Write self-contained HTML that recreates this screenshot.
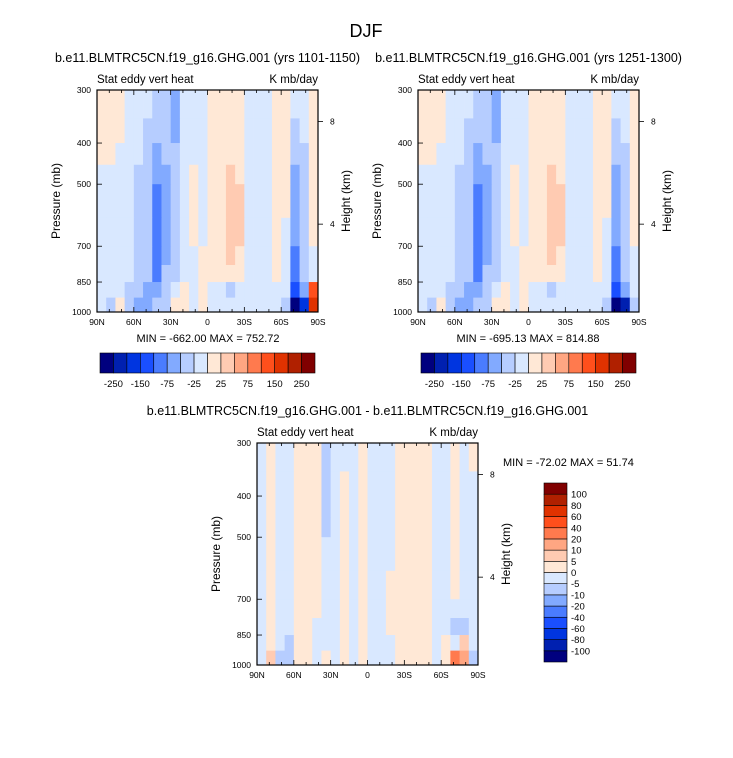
<!DOCTYPE html>
<html><head><meta charset="utf-8"><style>
html,body{margin:0;padding:0;background:#fff;}
svg{display:block;font-family:"Liberation Sans",sans-serif;}
</style></head><body>
<svg id="s" width="733" height="758" viewBox="0 0 733 758" xmlns="http://www.w3.org/2000/svg">
<text x="366" y="37" font-size="18" text-anchor="middle">DJF</text>
</svg>
<script>
const pEdges = [300,350,400,450,500,600,700,775,850,925,1000];
const latTicks = ["90N","60N","30N","0","30S","60S","90S"];
const pTicks = [300,400,500,700,850,1000];
const levels1 = [-250,-200,-150,-100,-75,-50,-25,0,25,50,75,100,150,200,250];
const levels3 = [-100,-80,-60,-40,-20,-10,-5,0,5,10,20,40,60,80,100];
const labels1 = ["-250","-150","-75","-25","25","75","150","250"];
const palette = ["#00007f","#0020b0","#0035e0","#1a4fff","#4a7cff","#82aaff","#b6cdff","#d9e8ff","#ffe8d6","#ffcbb2","#ffa682","#ff7a4e","#ff4f1c","#e03200","#b02000","#800000"];
const data1 = [
[10,10,10,-10,-10,-10,-30,-30,-60,-10,-10,-10,10,10,10,10,-10,-10,-10,10,10,-10,-10,10],
[10,10,10,-10,-10,-30,-40,-40,-60,-10,-10,-10,10,10,10,10,-10,-10,-10,10,10,-30,-10,10],
[10,10,-10,-10,-10,-30,-60,-40,-30,-10,-10,-10,10,10,10,10,-10,-10,-10,10,10,-40,-30,10],
[-10,-10,-10,-10,-30,-30,-60,-60,-30,-10,10,-10,10,10,30,10,-10,-10,-10,10,10,-60,-30,10],
[-10,-10,-10,-10,-30,-40,-80,-60,-30,-10,10,-10,10,10,30,30,-10,-10,-10,10,10,-60,-30,10],
[-10,-10,-10,-10,-30,-40,-80,-60,-30,-10,10,-10,10,10,30,30,-10,-10,-10,10,-10,-60,-30,10],
[-10,-10,-10,-10,-30,-40,-80,-60,-30,-10,-10,10,10,10,30,10,-10,-10,-10,10,-10,-80,-40,-10],
[-10,-10,-10,-10,-30,-40,-80,-40,-30,-10,-10,10,10,10,10,10,-10,-10,-10,10,-10,-90,-40,-10],
[-10,-10,-10,-30,-40,-60,-60,-30,-10,10,-10,10,-10,-10,-30,-10,-10,-10,-10,-10,-10,-120,-60,120],
[-10,-30,20,-30,-60,-60,-40,-30,10,10,-10,10,-10,-10,-10,-10,-10,-10,-10,-10,-30,-300,-200,160]];
const data2 = [
[10,10,10,-10,-10,-10,-30,-30,-60,-10,-10,-10,10,10,10,10,-10,-10,-10,10,10,-10,-10,10],
[10,10,10,-10,-10,-30,-40,-40,-60,-10,-10,-10,10,10,10,10,-10,-10,-10,10,10,-30,-10,10],
[10,10,-10,-10,-10,-30,-60,-40,-30,-10,-10,-10,10,10,10,10,-10,-10,-10,10,10,-40,-30,10],
[-10,-10,-10,-10,-30,-30,-60,-60,-30,-10,10,-10,10,10,30,10,-10,-10,-10,10,10,-60,-30,10],
[-10,-10,-10,-10,-30,-40,-80,-60,-30,-10,10,-10,10,10,30,30,-10,-10,-10,10,10,-60,-30,10],
[-10,-10,-10,-10,-30,-40,-80,-60,-30,-10,10,-10,10,10,30,30,-10,-10,-10,10,-10,-60,-30,10],
[-10,-10,-10,-10,-30,-40,-80,-60,-30,-10,-10,10,10,10,30,10,-10,-10,-10,10,-10,-80,-40,-10],
[-10,-10,-10,-10,-30,-40,-80,-40,-30,-10,-10,10,10,10,10,10,-10,-10,-10,10,-10,-90,-50,-10],
[-10,-10,-10,-30,-40,-60,-60,-30,-10,10,-10,10,-10,-10,-30,-10,-10,-10,-10,-10,-10,-130,-60,-10],
[-10,-30,20,-30,-60,-60,-40,-30,10,10,-10,10,-10,-10,-10,-10,-10,-10,-10,-10,-30,-300,-220,-30]];
const data3 = [
[-2,2,-2,-2,2,2,2,-7,-2,-2,-2,2,-2,-2,-2,2,2,2,2,-2,-2,2,-2,2],
[-2,2,-2,-2,2,2,2,-7,-2,2,-2,2,-2,-2,-2,2,2,2,2,-2,-2,2,-2,-2],
[-2,2,-2,-2,2,2,2,-7,-2,2,-2,2,-2,-2,-2,2,2,2,2,-2,-2,2,-2,-2],
[-2,2,-2,-2,2,2,2,-7,-2,2,-2,2,-2,-2,-2,2,2,2,2,-2,-2,2,-2,-2],
[-2,2,-2,-2,2,2,2,-2,-2,2,-2,2,-2,-2,-2,2,2,2,2,-2,-2,2,-2,-2],
[-2,2,-2,-2,2,2,2,-2,-2,2,-2,2,-2,-2,2,2,2,2,2,-2,-2,2,-2,-2],
[-2,2,-2,-2,2,2,2,-2,-2,2,-2,2,-2,-2,2,2,2,2,2,-2,-2,-2,-2,-2],
[-2,2,-2,-2,2,2,-2,-2,-2,2,-2,2,-2,-2,2,2,2,2,2,-2,-2,-7,-7,-2],
[-2,2,-2,-7,2,2,-2,-2,-2,2,-2,2,-2,-2,-2,2,2,2,2,-2,2,-2,7,-2],
[-2,7,-7,-7,2,2,-2,2,-2,2,-2,2,-2,-2,-2,2,2,2,2,-2,2,20,12,-7]];

const NS="http://www.w3.org/2000/svg";
const svg=document.getElementById('s');
function mk(tag,attrs,parent,text){const e=document.createElementNS(NS,tag);for(const k in attrs)e.setAttribute(k,attrs[k]);if(text!==undefined)e.textContent=text;(parent||svg).appendChild(e);return e;}
function colorFor(v,levels){let i=0;while(i<levels.length&&v>=levels[i])i++;return palette[i];}

function plot(ox,oy,data,levels,title,name){
  const W=221,H=222;
  const xS=lat=>ox+(90-lat)/180*W;
  const yS=p=>oy+Math.log(p/300)/Math.log(1000/300)*H;
  const g=mk('g',{});
  
  
  const nc=data[0].length;
  for(let r=0;r<data.length;r++)for(let c=0;c<nc;c++){
    const l0=90-180*c/nc,l1=90-180*(c+1)/nc;
    const x0=xS(l0),x1=xS(l1),y0=yS(pEdges[r]),y1=yS(pEdges[r+1]);
    const cell=mk('rect',{x:x0,y:y0,width:x1-x0+0.4,height:y1-y0+0.4,fill:colorFor(data[r][c],levels)},g);
    
    
  }
  mk('rect',{x:ox,y:oy,width:W,height:H,fill:'none',stroke:'#000','stroke-width':1.2},g);
  for(let lat=90;lat>=-90;lat-=10){
    const x=xS(lat),major=lat%30===0;const L=major?5:3;
    mk('line',{x1:x,y1:oy+H,x2:x,y2:oy+H-L,stroke:'#000','stroke-width':0.8},g);
    mk('line',{x1:x,y1:oy,x2:x,y2:oy+L,stroke:'#000','stroke-width':0.8},g);
  }
  latTicks.forEach((t,i)=>{const tl=mk('text',{x:xS(90-30*i),y:oy+H+13,'font-size':8.5,'text-anchor':'middle'},g,t);
    });
  pTicks.forEach(p=>{const y=yS(p);
    mk('line',{x1:ox,y1:y,x2:ox+5,y2:y,stroke:'#000','stroke-width':0.8},g);
    const tl=mk('text',{x:ox-6,y:y+3,'font-size':8.5,'text-anchor':'end'},g,String(p));
    });
  [[356,'8'],[621,'4']].forEach(([p,t])=>{const y=yS(p);
    mk('line',{x1:ox+W,y1:y,x2:ox+W+5,y2:y,stroke:'#000','stroke-width':0.8},g);
    const tl=mk('text',{x:ox+W+12,y:y+3,'font-size':8.5},g,t);
    });
  const yt=mk('text',{x:0,y:0,'font-size':12,'text-anchor':'middle',transform:`translate(${ox-37},${oy+H/2}) rotate(-90)`},g,'Pressure (mb)');
  
  const ht=mk('text',{x:0,y:0,'font-size':12,'text-anchor':'middle',transform:`translate(${ox+W+32},${oy+H/2}) rotate(-90)`},g,'Height (km)');
  
  const l=mk('text',{x:ox,y:oy-7,'font-size':11.5},g,'Stat eddy vert heat');
  
  const u=mk('text',{x:ox+W,y:oy-7,'font-size':11.5,'text-anchor':'end'},g,'K mb/day');
  
  const t=mk('text',{x:ox+W/2,y:oy-28,'font-size':12.5,'text-anchor':'middle'},g,title);
  
}
plot(97,90,data1,levels1,'b.e11.BLMTRC5CN.f19_g16.GHG.001 (yrs 1101-1150)','plot-yrs-1101-1150');
plot(418,90,data2,levels1,'b.e11.BLMTRC5CN.f19_g16.GHG.001 (yrs 1251-1300)','plot-yrs-1251-1300');
plot(257,443,data3,levels3,'b.e11.BLMTRC5CN.f19_g16.GHG.001 - b.e11.BLMTRC5CN.f19_g16.GHG.001','plot-difference');

function mm(x,y,txt,anchor){const e=mk('text',{x:x,y:y,'font-size':11,'text-anchor':anchor},svg,txt);
  }
mm(208,342,'MIN = -662.00  MAX = 752.72','middle');
mm(528,342,'MIN = -695.13  MAX = 814.88','middle');
mm(503,466,'MIN = -72.02  MAX =  51.74','start');

function hbar(ox,name){
  const g=mk('g',{});
  const W=215/16;
  palette.forEach((c,i)=>{const b=mk('rect',{x:ox+i*W,y:353,width:W,height:20,fill:c,stroke:'#000','stroke-width':0.6},g);
    });
  labels1.forEach((t,i)=>{const e=mk('text',{x:ox+(2*i+1)*W,y:387,'font-size':9.5,'text-anchor':'middle'},g,t);
    });
}
hbar(100,'colorbar-1');hbar(421,'colorbar-2');
(function(){
  const g=mk('g',{});
  const H=179/16,oy=483,ox=544;
  palette.forEach((c,i)=>{const b=mk('rect',{x:ox,y:oy+(15-i)*H,width:23,height:H,fill:c,stroke:'#000','stroke-width':0.6},g);
    });
  levels3.forEach((v,i)=>{const e=mk('text',{x:ox+27,y:oy+(15-i)*H+3.5,'font-size':9.5},g,String(v));
    });
})();
</script>
</body></html>
